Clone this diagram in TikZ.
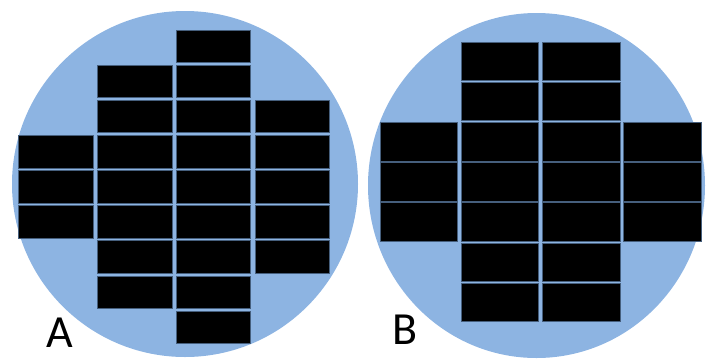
\documentclass[tikz,border=0pt]{standalone}
\usepackage{fontspec}
\setmainfont{Carlito}
\definecolor{wafer}{RGB}{141,180,226}
\definecolor{dieedge}{RGB}{70,95,125}
\begin{document}
\begin{tikzpicture}[x=1pt,y=-1pt,
  die/.style={fill=black,draw=dieedge,line width=0.7pt},
  lab/.style={font=\fontsize{46}{46}\selectfont,inner sep=0pt}]
\useasboundingbox (0,0) rectangle (707,360);
% wafers
\fill[wafer] (185,184) circle[radius=173];
\fill[wafer] (536.5,185.5) ellipse[x radius=168.5,y radius=172.5];
% wafer A dies
\foreach \c/\ra/\rb in {0/3/5,1/1/7,2/0/8,3/2/6}{
  \foreach \r in {\ra,...,\rb}{
    \draw[die] ({18.5+78.9*\c},{30+35.125*\r}) rectangle ++(74.5,32.5);
  }
}
% wafer B dies
\foreach \c/\ra/\rb in {0/2/4,1/0/6,2/0/6,3/2/4}{
  \foreach \r in {\ra,...,\rb}{
    \draw[die] ({380+81.2*\c},{42+40.17*\r}) rectangle ++(77.5,38.6);
  }
}
\node[lab] (A) at (59.5,333) {A};
\node[lab] (B) at (405.5,330) {B};
\end{tikzpicture}
\end{document}
